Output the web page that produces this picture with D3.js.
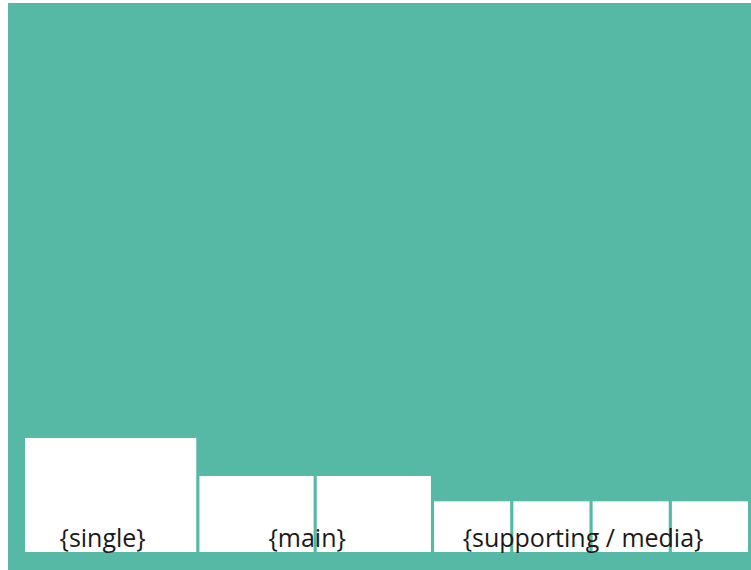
<!DOCTYPE html>
<html>
<head>
<meta charset="utf-8">
<script src="https://cdn.jsdelivr.net/npm/d3@7"></script>
<style>
  html, body { margin: 0; padding: 0; background: #ffffff; }
  svg { display: block; }
</style>
</head>
<body>
<div id="chart"></div>
<script>
// ---- data ----
const groups = ["{single}", "{main}", "{supporting / media}"];
const barCounts = [1, 2, 4];
const barSizes = [9, 6, 4];

// ---- layout / style ----
const W = 751, H = 570;
const bg = "#55b9a5";
const gapPx = 3.15;
const unitPx = 19.03;
const left = 25, baseY = 552;

const bars = [];
let unit = 0, idx = 0;
const groupSpans = [];
groups.forEach((g, gi) => {
  const start = { unit, idx };
  for (let k = 0; k < barCounts[gi]; k++) {
    bars.push({ group: g, size: barSizes[gi], u0: unit, idx });
    unit += barSizes[gi];
    idx += 1;
  }
  groupSpans.push({ label: g, u0: start.unit, i0: start.idx, u1: unit, i1: idx });
});
const totalUnits = unit;

const x = d3.scaleLinear().domain([0, totalUnits]).range([left, left + totalUnits * unitPx]);
const y = d3.scaleLinear().domain([0, d3.max(barSizes)]).range([baseY, baseY - d3.max(barSizes) * 12.67]);

const svg = d3.select("#chart").append("svg").attr("width", W).attr("height", H);

svg.append("rect").attr("x", 8).attr("y", 3).attr("width", W - 8).attr("height", H - 3).attr("fill", bg);

svg.append("g").selectAll("rect").data(bars).join("rect")
  .attr("x", d => x(d.u0) + d.idx * gapPx)
  .attr("y", d => y(d.size))
  .attr("width", d => x(d.u0 + d.size) - x(d.u0))
  .attr("height", d => y(0) - y(d.size))
  .attr("fill", "#ffffff");

svg.append("g").selectAll("text").data(groupSpans).join("text")
  .attr("x", d => {
    const a = x(d.u0) + d.i0 * gapPx;
    const b = x(d.u1) + (d.i1 - 1) * gapPx;
    return (a + b) / 2 - 8;
  })
  .attr("y", 547)
  .attr("text-anchor", "middle")
  .attr("font-family", "'Open Sans', 'Noto Sans', sans-serif")
  .attr("font-size", 25)
  .attr("fill", "#1a1a1a")
  .text(d => d.label);
</script>
</body>
</html>
